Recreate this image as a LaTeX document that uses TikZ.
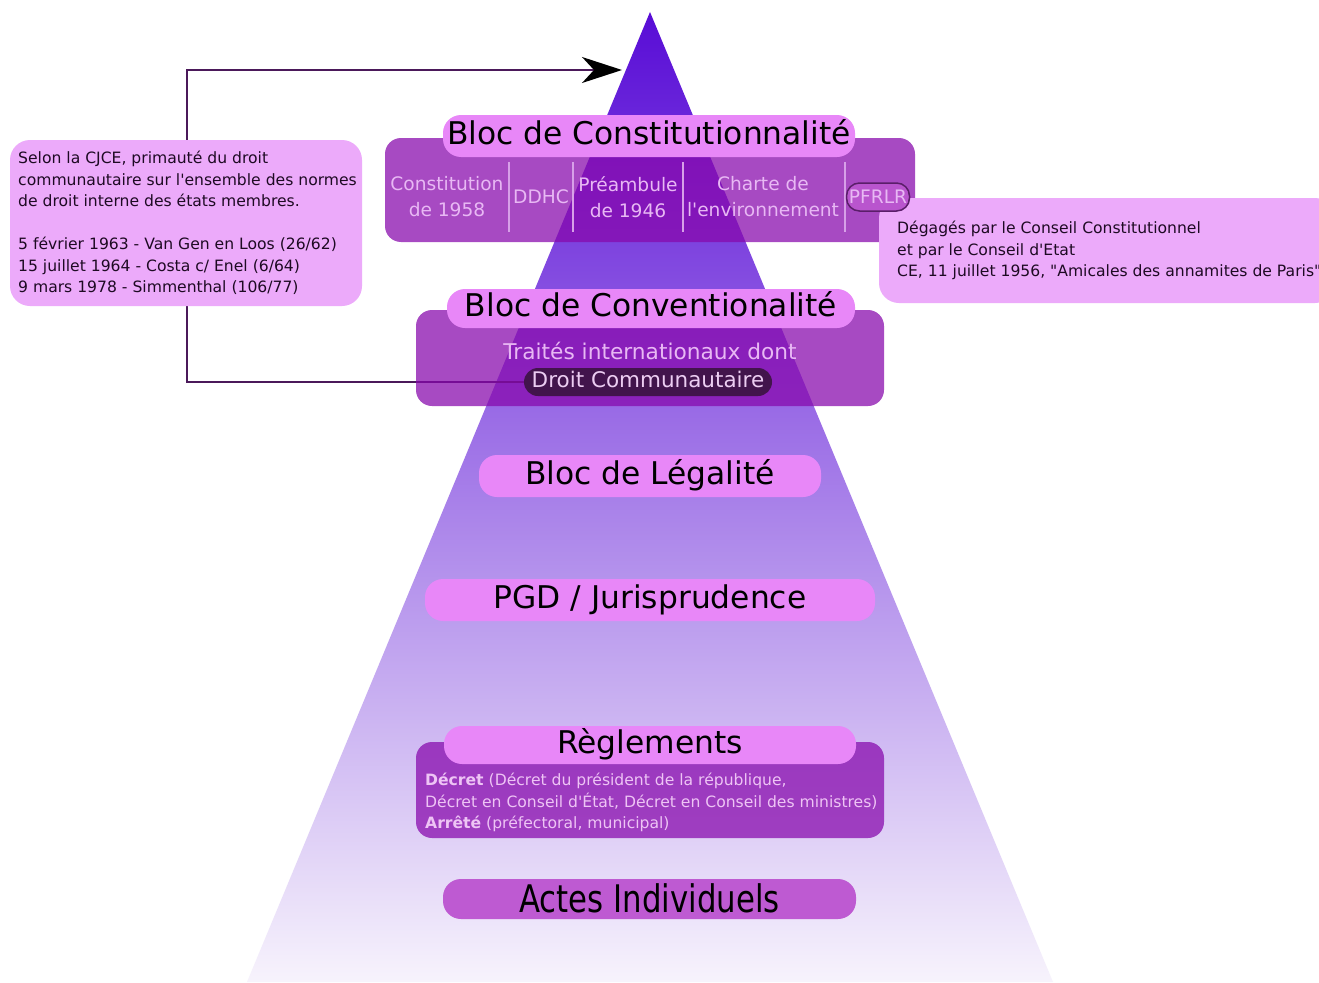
\documentclass[tikz,border=0pt]{standalone}
\usepackage{fontspec}
\setmainfont{DejaVu Sans}[Ligatures=TeXOff]
\newfontfamily\condfont{DejaVu Sans}[FakeStretch=0.81,Ligatures=TeXOff]
\usetikzlibrary{arrows.meta}
\pgfdeclarelayer{pyrlayer}
\pgfdeclarelayer{linklayer}
\pgfsetlayers{pyrlayer,linklayer,main}
\definecolor{pyrtop}{RGB}{88,12,214}
\definecolor{pyrbot}{RGB}{247,243,252}
\definecolor{boxfill}{RGB}{135,8,172}
\definecolor{pillcol}{RGB}{232,135,248}
\definecolor{calloutcol}{RGB}{236,170,250}
\definecolor{subtext}{RGB}{232,184,244}
\definecolor{sepcol}{RGB}{215,160,232}
\definecolor{dcfill}{RGB}{66,20,76}
\definecolor{dctext}{RGB}{236,205,242}
\definecolor{actescol}{RGB}{190,90,210}
\definecolor{linecol}{RGB}{75,25,90}
\definecolor{textdark}{RGB}{30,10,35}
\definecolor{regtext}{RGB}{238,196,245}
\definecolor{pfrlrfill}{RGB}{185,85,206}
\definecolor{pfrlrline}{RGB}{90,30,105}
\newcommand\hdfont{\fontsize{31.3}{36}\selectfont}
\newcommand\sbfont{\fontsize{18.6}{26}\selectfont}
\newcommand\smfont{\fontsize{15.6}{21.5}\selectfont}
\begin{document}
\begin{tikzpicture}[x=1pt,y=-1pt,
  outerbox/.style={fill=boxfill, fill opacity=0.73, rounded corners=16pt, inner sep=0pt},
  pill/.style={fill=pillcol, rounded corners=18pt, inner sep=0pt, font=\hdfont, text=black, text height=22.5pt, text depth=6pt},
  subitem/.style={text=subtext, font=\sbfont, align=center, inner sep=0pt},
  callout/.style={fill=calloutcol, rounded corners=20pt, inner sep=0pt},
  calltext/.style={anchor=west, align=left, font=\smfont, text=textdark, inner sep=0pt},
  sepline/.style={draw=sepcol, line width=1.5pt},
  link/.style={draw=linecol, line width=2pt}
]
\useasboundingbox (0,0) rectangle (1319,982);
\begin{pgfonlayer}{pyrlayer}
\fill[white] (0,0) rectangle (1319,982);
\shade[top color=pyrtop, bottom color=pyrbot] (650,12) -- (1053,982) -- (247,982) -- cycle;
\end{pgfonlayer}

% Conventionalite block
\node[outerbox, minimum width=468pt, minimum height=96pt] (convbox) at (650,358) {};
\node[pill, minimum width=408pt, minimum height=39pt] (convhead) at (651,308.5) {Bloc de Conventionalité};
\node[text=subtext, font=\fontsize{21.7}{26}\selectfont, inner sep=0pt] (traites) at (650,351) {Traités internationaux dont};
\node[fill=dcfill, rounded corners=14pt, minimum width=248pt, minimum height=28pt, inner sep=0pt, text=dctext, font=\fontsize{21.5}{24}\selectfont, text height=16pt, text depth=4.5pt] (dc) at (648,382) {Droit Communautaire};

% connector
\coordinate (bend) at (187,70);
\coordinate (arrowend) at (622,70);
\begin{pgfonlayer}{linklayer}
\draw[link, -{Stealth[length=40pt,width=26pt,inset=12pt,color=black]}] (dc.west) -| (bend) -- (arrowend);
\end{pgfonlayer}

% left callout
\node[callout, minimum width=352pt, minimum height=166pt] (leftbox) at (186,223) {};
\node[calltext] (lefttext) at (18,223) {Selon la CJCE, primauté du droit\\
communautaire sur l'ensemble des normes\\
de droit interne des états membres.\\[21.5pt]
5 février 1963 - Van Gen en Loos (26/62)\\
15 juillet 1964 - Costa c/ Enel (6/64)\\
9 mars 1978 - Simmenthal (106/77)};

% Constitutionnalite block
\node[outerbox, minimum width=530pt, minimum height=104pt] (constbox) at (650,190) {};
\node[pill, minimum width=412pt, minimum height=42pt] (consthead) at (649,136) {Bloc de Constitutionnalité};
\node[subitem] (c58) at (447,197) {Constitution\\de 1958};
\node[subitem] (ddhc) at (541,197) {DDHC};
\node[subitem] (p46) at (628,197) {Préambule\\de 1946};
\node[subitem] (charte) at (763,197) {Charte de\\l'environnement};
\draw[sepline] (509,162) -- (509,232);
\draw[sepline] (573,162) -- (573,232);
\draw[sepline] (683,162) -- (683,232);
\draw[sepline] (845,162) -- (845,232);

% right callout
\node[callout, minimum width=456pt, minimum height=105pt] (rightbox) at (1107,250.5) {};
\node[calltext] (righttext) at (897,250.6) {Dégagés par le Conseil Constitutionnel\\
et par le Conseil d'Etat\\
CE, 11 juillet 1956, "Amicales des annamites de Paris"};
\node[fill=pfrlrfill, draw=pfrlrline, line width=1.5pt, rounded corners=13pt, minimum width=63pt, minimum height=28pt, inner sep=0pt, text=subtext, font=\sbfont, text height=13.5pt, text depth=0pt] (pfrlr) at (878,197) {PFRLR};

% Legalite, PGD
\node[pill, minimum width=342pt, minimum height=42pt] (legal) at (650,476) {Bloc de Légalité};
\node[pill, minimum width=450pt, minimum height=42pt] (pgd) at (650,600) {PGD / Jurisprudence};

% Reglements
\node[outerbox, minimum width=468pt, minimum height=96pt] (regbox) at (650,790) {};
\node[pill, minimum width=412pt, minimum height=38pt] (reghead) at (650,745) {Règlements};
\node[anchor=west, align=left, font=\smfont, text=regtext, inner sep=0pt] (regtext) at (425,802.5) {\textbf{Décret} (Décret du président de la république,\\
Décret en Conseil d'État, Décret en Conseil des ministres)\\
\textbf{Arrêté} (préfectoral, municipal)};

% Actes individuels
\node[fill=actescol, rounded corners=18pt, minimum width=413pt, minimum height=40pt, inner sep=0pt, text=black, font=\condfont\fontsize{38}{42}\selectfont, text height=28pt, text depth=1pt] (actes) at (649.5,899) {Actes Individuels};
\end{tikzpicture}
\end{document}
